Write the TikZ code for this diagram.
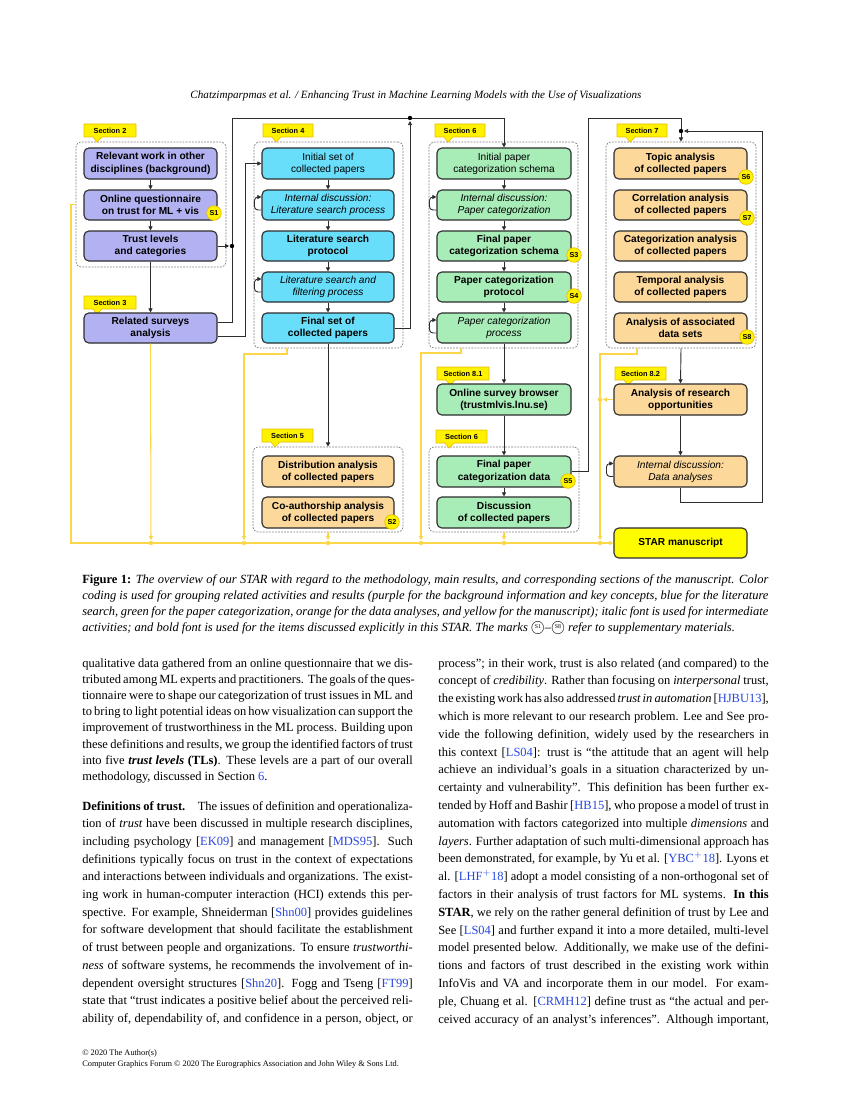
\documentclass[tikz,border=0pt]{standalone}
\usepackage{fontspec}
\setmainfont{Liberation Serif}
\setsansfont{Liberation Sans}
\usetikzlibrary{calc,arrows.meta}
\definecolor{purp}{RGB}{178,178,242}
\definecolor{bluef}{RGB}{104,222,250}
\definecolor{greenf}{RGB}{168,236,184}
\definecolor{orangef}{RGB}{252,216,154}
\definecolor{starf}{RGB}{255,252,0}
\definecolor{tagf}{RGB}{255,242,0}
\definecolor{tagd}{RGB}{232,190,0}
\definecolor{yline}{RGB}{250,214,72}
\definecolor{linkblue}{RGB}{40,70,225}
\definecolor{boxd}{RGB}{45,45,45}
\definecolor{grpd}{RGB}{125,125,125}
\newcommand\bodyfont{\rmfamily\fontsize{9}{11}\selectfont}
\newcommand\cit[1]{[\textcolor{linkblue}{#1}]}
\newcommand\jl[1]{\hbox to 238pt{#1}}
\newcommand\cl[1]{\hbox to 494pt{#1}}
\newcommand\circS[1]{{\ooalign{\hfil\raisebox{0.45ex}{\fontsize{4.2}{5}\selectfont\upshape S#1}\hfil\crcr\raisebox{-0.15ex}{\fontsize{10}{11}\selectfont$\bigcirc$}}}}
\newcommand\bx[7]{\node[#6, minimum width={(#4-#2)*0.72pt}, minimum height={(#5-#3)*0.72pt}] (#1) at ({(#2+#4)/2},{(#3+#5)/2}) {#7};}
\newcommand\sectag[6]{%
  \filldraw[fill=tagf, draw=tagd, line width=0.5pt] (#2,#3) -- (#4,#3) -- (#4,#5) -- ({#2+18},#5) -- ({#2+13},{#5+5}) -- ({#2+9},#5) -- (#2,#5) -- cycle;
  \node[tagtext] (#1) at ({(#2+#4)/2},{(#3+#5)/2}) {#6};}
\newcommand\bl[4]{\node[bodyline] (#1) at (#2,#3) {#4};}
\newcommand\selfloop[1]{\draw[arr, rounded corners=2.5pt] ($(#1.west)+(0,5)$) -- ++(-7,0) -- ++(0,-13) -- ++(7,0);}
\tikzset{
  box/.style={draw=boxd, line width=0.8pt, rounded corners=3.5pt, align=center, inner sep=0pt,
     font=\sffamily\bfseries\fontsize{7.3}{8.8}\selectfont},
  regbox/.style={box, font=\sffamily\fontsize{7.3}{8.8}\selectfont},
  itbox/.style={box, font=\sffamily\itshape\fontsize{7.3}{8.8}\selectfont},
  grp/.style={draw=grpd, line width=0.5pt, dash pattern=on 1.3pt off 0.9pt, rounded corners=3.5pt, inner sep=0pt},
  tagtext/.style={inner sep=0pt, font=\sffamily\bfseries\fontsize{5.3}{6}\selectfont},
  badge/.style={circle, fill=tagf, draw=tagd, line width=0.5pt, inner sep=0pt, minimum size=10.5pt,
     font=\sffamily\bfseries\fontsize{5.2}{6}\selectfont},
  arr/.style={draw=boxd, line width=0.65pt, -{Triangle[length=3pt,width=3pt]}},
  ln/.style={draw=boxd, line width=0.65pt},
  yarr/.style={draw=yline, line width=0.75pt, -{Triangle[length=3pt,width=3pt]}},
  jdot/.style={fill=black},
  ydot/.style={fill=yline},
  bodyline/.style={anchor=base west, inner sep=0pt, font=\bodyfont},
}
\begin{document}
\begin{tikzpicture}[x=0.72pt, y=-0.72pt]
\useasboundingbox (0,0) rectangle (850,1100);
\fill[white] (0,0) rectangle (850,1100);

% header
\node[font=\rmfamily\itshape\fontsize{8}{10}\selectfont, anchor=base] (hdr) at (416,99) {Chatzimparpmas et al. / Enhancing Trust in Machine Learning Models with the Use of Visualizations};

% groups
\bx{g1}{76}{142}{226}{267}{grp}{}
\bx{g2}{254}{142}{403}{348}{grp}{}
\bx{g3}{429}{142}{578}{348}{grp}{}
\bx{g4}{606}{142}{756}{348}{grp}{}
\bx{g5}{253}{447}{403}{532}{grp}{}
\bx{g6}{429}{447}{579}{532}{grp}{}

% section tags
\sectag{t2}{84}{124}{136}{137}{Section 2}
\sectag{t3}{84}{296}{136}{309}{Section 3}
\sectag{t4}{263}{124}{313}{137}{Section 4}
\sectag{t6}{435}{124}{485}{137}{Section 6}
\sectag{t7}{617}{124}{667}{137}{Section 7}
\sectag{t5}{262}{429}{313}{442}{Section 5}
\sectag{t81}{437}{367}{489}{380}{Section 8.1}
\sectag{t6b}{436}{430}{487}{443}{Section 6}
\sectag{t82}{615}{367}{666}{380}{Section 8.2}

% column 1
\bx{a1}{84}{148}{217}{179}{box,fill=purp}{Relevant work in other\\disciplines (background)}
\bx{a2}{84}{190}{217}{220}{box,fill=purp}{Online questionnaire\\on trust for ML + vis}
\bx{a3}{84}{231}{217}{261}{box,fill=purp}{Trust levels\\and categories}
\bx{a4}{84}{313}{217}{343}{box,fill=purp}{Related surveys\\analysis}
% column 2
\bx{b1}{262}{148}{394}{179}{regbox,fill=bluef}{Initial set of\\collected papers}
\bx{b2}{262}{190}{394}{220}{itbox,fill=bluef}{Internal discussion:\\Literature search process}
\bx{b3}{262}{231}{394}{261}{box,fill=bluef}{Literature search\\protocol}
\bx{b4}{262}{272}{394}{302}{itbox,fill=bluef}{Literature search and\\filtering process}
\bx{b5}{262}{313}{394}{343}{box,fill=bluef}{Final set of\\collected papers}
% column 3
\bx{c1}{437}{148}{571}{179}{regbox,fill=greenf}{Initial paper\\categorization schema}
\bx{c2}{437}{190}{571}{220}{itbox,fill=greenf}{Internal discussion:\\Paper categorization}
\bx{c3}{437}{231}{571}{261}{box,fill=greenf}{Final paper\\categorization schema}
\bx{c4}{437}{272}{571}{302}{box,fill=greenf}{Paper categorization\\protocol}
\bx{c5}{437}{313}{571}{343}{itbox,fill=greenf}{Paper categorization\\process}
% column 4
\bx{d1}{614}{148}{747}{179}{box,fill=orangef}{Topic analysis\\of collected papers}
\bx{d2}{614}{190}{747}{220}{box,fill=orangef}{Correlation analysis\\of collected papers}
\bx{d3}{614}{231}{747}{261}{box,fill=orangef}{Categorization analysis\\of collected papers}
\bx{d4}{614}{272}{747}{302}{box,fill=orangef}{Temporal analysis\\of collected papers}
\bx{d5}{614}{313}{747}{343}{box,fill=orangef}{Analysis of associated\\data sets}
% lower
\bx{e1}{437}{384}{571}{415}{box,fill=greenf}{Online survey browser\\(trustmlvis.lnu.se)}
\bx{e2}{437}{456}{571}{487}{box,fill=greenf}{Final paper\\categorization data}
\bx{e3}{437}{497}{571}{528}{box,fill=greenf}{Discussion\\of collected papers}
\bx{f1}{614}{384}{747}{415}{box,fill=orangef}{Analysis of research\\opportunities}
\bx{f2}{614}{456}{747}{487}{itbox,fill=orangef}{Internal discussion:\\Data analyses}
\bx{f3}{614}{528}{747}{558}{box,fill=starf}{STAR manuscript}
\bx{h1}{262}{456}{394}{487}{box,fill=orangef}{Distribution analysis\\of collected papers}
\bx{h2}{262}{497}{394}{528}{box,fill=orangef}{Co-authorship analysis\\of collected papers}

% badges
\node[badge] (s1) at (214,213) {S1};
\node[badge] (s2) at (392,522) {S2};
\node[badge] (s3) at (574,255) {S3};
\node[badge] (s4) at (574,296) {S4};
\node[badge] (s5) at (568,481) {S5};
\node[badge] (s6) at (746,177) {S6};
\node[badge] (s7) at (747,218) {S7};
\node[badge] (s8) at (747,337) {S8};

% coordinates
\coordinate (j1) at (232,246);
\coordinate (top1) at (232,118);
\coordinate (dotA) at (410,118);
\coordinate (vB) at (245,0);
\coordinate (j4) at (681,131);
\coordinate (m1) at (151,543);
\coordinate (m2) at (244,543);
\coordinate (m3) at (328,543);
\coordinate (m4) at (421,543);
\coordinate (m5) at (504,543);
\coordinate (m6) at (600,543);
\coordinate (m7) at (600,399.5);

% black connectors
\draw[arr] (a1.south) -- (a2.north);
\draw[arr] (a2.south) -- (a3.north);
\draw[arr] (a3.south) -- (a4.north);
\draw[arr, shorten >=2pt] (a3.east) -- (j1);
\draw[arr] ($(a4.east)+(0,-6)$) -| (top1) -| (c1.north);
\draw[arr] ($(a4.east)+(0,8)$) -| (vB |- b1.west) -- (b1.west);
\draw[arr] (b1.south) -- (b2.north);
\draw[arr] (b2.south) -- (b3.north);
\draw[arr] (b3.south) -- (b4.north);
\draw[arr] (b4.south) -- (b5.north);
\draw[arr] (b5.east) -| ($(dotA)+(0,3)$);
\draw[arr] (b5.south) -- (g5.north);
\draw[arr] (c1.south) -- (c2.north);
\draw[arr] (c2.south) -- (c3.north);
\draw[arr] (c3.south) -- (c4.north);
\draw[arr] (c4.south) -- (c5.north);
\draw[arr] (c5.south) -- (e1.north);
\draw[arr] (e1.south) -- (e2.north);
\draw[arr] (e2.south) -- (e3.north);
\draw[arr] (e2.east) -| (588,118) -| (g4.north);
\draw[arr] (f2.south) |- (762,502) -- (762,131) -- ($(j4)+(3,0)$);
\draw[arr] (g4.south) -- (f1.north);
\draw[arr] (f1.south) -- (f2.north);
\selfloop{b2}
\selfloop{b4}
\selfloop{c2}
\selfloop{c5}
\selfloop{f2}
\fill[jdot] (j1) circle (2.2);
\fill[jdot] (dotA) circle (2.2);
\fill[jdot] (j4) circle (2.2);

% yellow connectors
\draw[yarr] (g1.west) -| (71,543) -- (f3.west);
\draw[yarr, shorten >=2pt] (a4.south) -- (m1);
\draw[yarr, shorten >=2pt] (287,348) -- (287,354) -- (244,354) -- (m2);
\draw[yarr, shorten >=2pt] (g5.south) -- (m3);
\draw[yarr, shorten >=2pt] (461,348) -- (461,353) -- (421,353) -- (m4);
\draw[yarr, shorten >=2pt] (g6.south) -- (m5);
\draw[yarr, shorten >=2pt] (637,348) -- (637,354) -- (600,354) -- (m6);
\draw[yarr, shorten >=2pt] (f1.west) -- (m7);
\foreach \p in {m1,m2,m3,m4,m5,m6,m7} \fill[ydot] (\p) circle (2.2);

% caption
\node[bodyline] (cap1) at (82,583) {\cl{\textbf{Figure 1:} \itshape The overview of our STAR with regard to the methodology, main results, and corresponding sections of the manuscript. Color}};
\node[bodyline] (cap2) at (82,599) {\cl{\itshape coding is used for grouping related activities and results (purple for the background information and key concepts, blue for the literature}};
\node[bodyline] (cap3) at (82,615) {\cl{\itshape search, green for the paper categorization, orange for the data analyses, and yellow for the manuscript); italic font is used for intermediate}};
\node[bodyline] (cap4) at (82,631) {\itshape activities; and bold font is used for the items discussed explicitly in this STAR. The marks \circS{1}--\circS{8} refer to supplementary materials.};

% left column
\bl{l1}{82}{667}{\jl{qualitative data gathered from an online questionnaire that we dis-}}
\bl{l2}{82}{683.2}{\jl{tributed among ML experts and practitioners. The goals of the ques-}}
\bl{l3}{82}{699.4}{\jl{tionnaire were to shape our categorization of trust issues in ML and}}
\bl{l4}{82}{715.6}{\jl{to bring to light potential ideas on how visualization can support the}}
\bl{l5}{82}{731.8}{\jl{improvement of trustworthiness in the ML process. Building upon}}
\bl{l6}{82}{748}{\jl{these definitions and results, we group the identified factors of trust}}
\bl{l7}{82}{764.2}{\jl{into five \textbf{\textit{trust levels}} \textbf{(TLs)}. These levels are a part of our overall}}
\bl{l8}{82}{780.4}{methodology, discussed in Section \textcolor{linkblue}{6}.}
\bl{l9}{82}{810}{\jl{\textbf{Definitions of trust.}\quad The issues of definition and operationaliza-}}
\bl{l10}{82}{827.7}{\jl{tion of \textit{trust} have been discussed in multiple research disciplines,}}
\bl{l11}{82}{845.4}{\jl{including psychology \cit{EK09} and management \cit{MDS95}. Such}}
\bl{l12}{82}{863.1}{\jl{definitions typically focus on trust in the context of expectations}}
\bl{l13}{82}{880.8}{\jl{and interactions between individuals and organizations. The exist-}}
\bl{l14}{82}{898.5}{\jl{ing work in human-computer interaction (HCI) extends this per-}}
\bl{l15}{82}{916.2}{\jl{spective. For example, Shneiderman \cit{Shn00} provides guidelines}}
\bl{l16}{82}{933.9}{\jl{for software development that should facilitate the establishment}}
\bl{l17}{82}{951.6}{\jl{of trust between people and organizations. To ensure \textit{trustworthi-}}}
\bl{l18}{82}{969.3}{\jl{\textit{ness} of software systems, he recommends the involvement of in-}}
\bl{l19}{82}{987}{\jl{dependent oversight structures \cit{Shn20}. Fogg and Tseng \cit{FT99}}}
\bl{l20}{82}{1004.7}{\jl{state that ``trust indicates a positive belief about the perceived reli-}}
\bl{l21}{82}{1022.4}{\jl{ability of, dependability of, and confidence in a person, object, or}}

% right column
\bl{r1}{438}{667}{\jl{process''; in their work, trust is also related (and compared) to the}}
\bl{r2}{438}{684.8}{\jl{concept of \textit{credibility}. Rather than focusing on \textit{interpersonal} trust,}}
\bl{r3}{438}{702.6}{\jl{the existing work has also addressed \textit{trust in automation} \cit{HJBU13},}}
\bl{r4}{438}{720.4}{\jl{which is more relevant to our research problem. Lee and See pro-}}
\bl{r5}{438}{738.2}{\jl{vide the following definition, widely used by the researchers in}}
\bl{r6}{438}{756}{\jl{this context \cit{LS04}: trust is ``the attitude that an agent will help}}
\bl{r7}{438}{773.8}{\jl{achieve an individual's goals in a situation characterized by un-}}
\bl{r8}{438}{791.6}{\jl{certainty and vulnerability''. This definition has been further ex-}}
\bl{r9}{438}{809.4}{\jl{tended by Hoff and Bashir \cit{HB15}, who propose a model of trust in}}
\bl{r10}{438}{827.2}{\jl{automation with factors categorized into multiple \textit{dimensions} and}}
\bl{r11}{438}{845}{\jl{\textit{layers}. Further adaptation of such multi-dimensional approach has}}
\bl{r12}{438}{862.8}{\jl{been demonstrated, for example, by Yu et al. [\textcolor{linkblue}{YBC$^{+}$18}]. Lyons et}}
\bl{r13}{438}{880.6}{\jl{al. [\textcolor{linkblue}{LHF$^{+}$18}] adopt a model consisting of a non-orthogonal set of}}
\bl{r14}{438}{898.4}{\jl{factors in their analysis of trust factors for ML systems. \textbf{In this}}}
\bl{r15}{438}{916.2}{\jl{\textbf{STAR}, we rely on the rather general definition of trust by Lee and}}
\bl{r16}{438}{934}{\jl{See \cit{LS04} and further expand it into a more detailed, multi-level}}
\bl{r17}{438}{951.8}{\jl{model presented below. Additionally, we make use of the defini-}}
\bl{r18}{438}{969.6}{\jl{tions and factors of trust described in the existing work within}}
\bl{r19}{438}{987.4}{\jl{InfoVis and VA and incorporate them in our model. For exam-}}
\bl{r20}{438}{1005.2}{\jl{ple, Chuang et al. \cit{CRMH12} define trust as ``the actual and per-}}
\bl{r21}{438}{1023}{\jl{ceived accuracy of an analyst's inferences''. Although important,}}

% footer
\node[anchor=base west, inner sep=0pt, font=\rmfamily\fontsize{6}{7.5}\selectfont] (ft1) at (82,1055) {\textcopyright\ 2020 The Author(s)};
\node[anchor=base west, inner sep=0pt, font=\rmfamily\fontsize{6}{7.5}\selectfont] (ft2) at (82,1066) {Computer Graphics Forum \textcopyright\ 2020 The Eurographics Association and John Wiley \& Sons Ltd.};
\end{tikzpicture}
\end{document}
